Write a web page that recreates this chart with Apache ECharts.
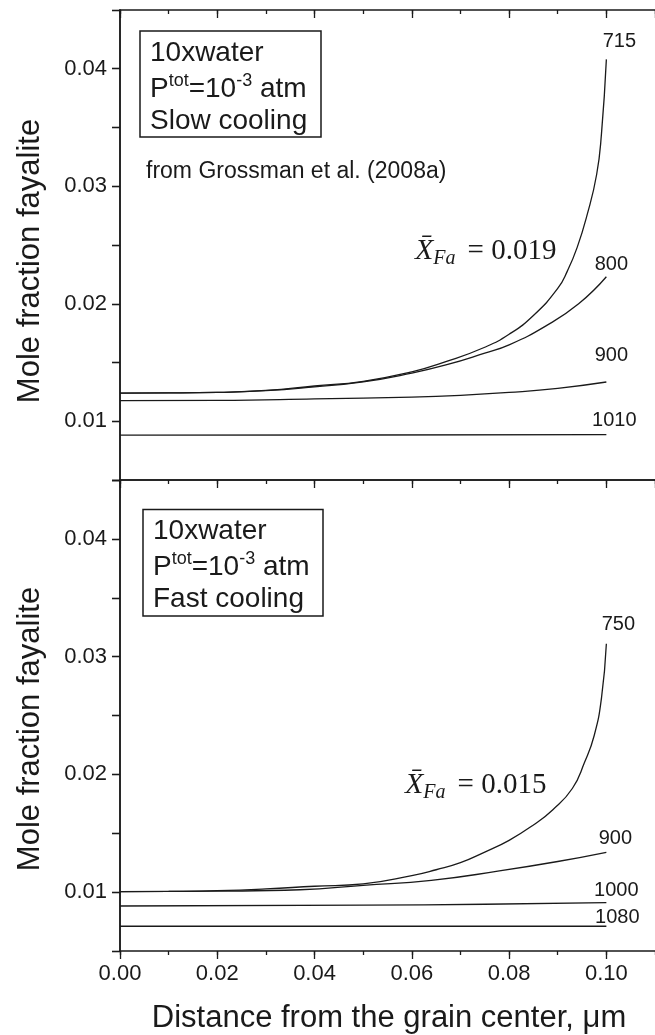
<!DOCTYPE html>
<html>
<head>
<meta charset="utf-8">
<script src="https://cdn.jsdelivr.net/npm/echarts@6/dist/echarts.min.js"></script>
<style>
  html, body { margin: 0; padding: 0; background: #fff; }
  #chart { width: 655px; height: 1035px; }
</style>
</head>
<body>
<div id="chart"></div>
<script>
// Fayalite zoning profiles: mole fraction vs distance from the grain centre (µm)

// Slow cooling, curves labelled by temperature (K)
const slow715X = [0, 0.01, 0.02, 0.03, 0.04, 0.05, 0.06, 0.067, 0.075, 0.08, 0.085, 0.09, 0.092, 0.094, 0.096, 0.098, 0.099, 0.1];
const slow715Y = [0.0124, 0.01241, 0.01246, 0.01262, 0.0130, 0.0134, 0.0142, 0.01507, 0.0163, 0.0174, 0.0190, 0.0213, 0.0228, 0.0248, 0.0275, 0.0310, 0.0345, 0.0408];
const slow800X = [0, 0.01, 0.02, 0.03, 0.04, 0.05, 0.06, 0.067, 0.075, 0.08, 0.0875, 0.0943, 0.1];
const slow800Y = [0.0124, 0.01241, 0.01245, 0.0126, 0.01293, 0.01335, 0.0141, 0.01479, 0.0158, 0.0165, 0.0181, 0.0200, 0.0223];
const slow900X = [0, 0.02, 0.04, 0.06, 0.07, 0.08, 0.09, 0.1];
const slow900Y = [0.01175, 0.01178, 0.0119, 0.01205, 0.0122, 0.01245, 0.0128, 0.01334];
const slow1010X = [0, 0.05, 0.1];
const slow1010Y = [0.00882, 0.00883, 0.00886];
const slowTemps = ['715', '800', '900', '1010'];

// Fast cooling
const fast750X = [0, 0.01, 0.02, 0.03, 0.04, 0.05, 0.06, 0.065, 0.07, 0.075, 0.08, 0.085, 0.089, 0.093, 0.0955, 0.0975, 0.099, 0.1];
const fast750Y = [0.01004, 0.01006, 0.01012, 0.01027, 0.0105, 0.0107, 0.0114, 0.0119, 0.0125, 0.0134, 0.0144, 0.0157, 0.0170, 0.0188, 0.0210, 0.0233, 0.0265, 0.0311];
const fast900X = [0, 0.02, 0.037, 0.05, 0.064, 0.078, 0.09, 0.1];
const fast900Y = [0.01004, 0.01008, 0.0102, 0.01058, 0.0110, 0.0118, 0.0126, 0.01338];
const fast1000X = [0, 0.05, 0.075, 0.1];
const fast1000Y = [0.00882, 0.0089, 0.00897, 0.0091];
const fast1080X = [0, 0.1];
const fast1080Y = [0.0071, 0.0071];
const fastTemps = ['750', '900', '1000', '1080'];

// Axis ranges and tick labels
const xMin = 0, xMax = 0.11, xMajor = 0.02, xMinor = 0.01;
const yMin = 0.005, yMax = 0.045, yStep = 0.005;
const yLabelValues = [0.01, 0.02, 0.03, 0.04];
const xLabelValues = [0, 0.02, 0.04, 0.06, 0.08, 0.1];

const SANS = 'Liberation Sans, Arial, Helvetica, sans-serif';
const SERIF = 'Liberation Serif, Times New Roman, serif';
const INK = '#1a1a1a';

const near = (v, list) => list.some(t => Math.abs(v - t) < 1e-9);

function xAxis(grid, position, opt) {
  return Object.assign({
    type: 'value', gridIndex: grid, position: position,
    min: xMin, max: xMax, interval: xMajor,
    axisLine: { show: true, lineStyle: { color: INK, width: 1.5 } },
    axisTick: { show: true, inside: false, length: 8, lineStyle: { color: INK, width: 1.3 } },
    axisLabel: { show: false },
    splitLine: { show: false }
  }, opt || {});
}
function xMinorAxis(grid, position, inside) {
  return xAxis(grid, position, {
    interval: xMinor,
    axisLine: { show: false },
    axisTick: { show: true, inside: inside, length: 4, lineStyle: { color: INK, width: 1.3 } }
  });
}
function yAxis(grid, position, opt) {
  return Object.assign({
    type: 'value', gridIndex: grid, position: position,
    min: yMin, max: yMax, interval: yStep,
    axisLine: { show: true, lineStyle: { color: INK, width: 1.5 } },
    axisTick: { show: true, inside: position === 'right', length: 8, lineStyle: { color: INK, width: 1.3 } },
    axisLabel: { show: false },
    splitLine: { show: false }
  }, opt || {});
}

const yLabel = {
  show: true, margin: 13, color: INK, fontFamily: SANS, fontSize: 22,
  formatter: v => near(v, yLabelValues) ? v.toFixed(2) : ''
};
const xLabel = {
  show: true, margin: 12, color: INK, fontFamily: SANS, fontSize: 22,
  showMaxLabel: false,
  formatter: v => near(v, xLabelValues) ? v.toFixed(2) : ''
};

const xAxes = [
  xAxis(0, 'bottom'),                 // divider, ticks pointing down
  xMinorAxis(0, 'bottom', false),
  xAxis(0, 'top', { axisTick: { show: true, inside: true, length: 8, lineStyle: { color: INK, width: 1.3 } } }),
  xMinorAxis(0, 'top', true),
  xAxis(1, 'bottom', { axisLabel: xLabel }),
  xMinorAxis(1, 'bottom', false),
  xAxis(1, 'top', { axisTick: { show: false } })
];
const yAxes = [
  yAxis(0, 'left', { axisLabel: yLabel }),
  yAxis(0, 'right'),
  yAxis(1, 'left', { axisLabel: yLabel }),
  yAxis(1, 'right')
];

const pair = (xs, ys) => xs.map((x, i) => [x, ys[i]]);
const slowCurves = [[slow715X, slow715Y], [slow800X, slow800Y], [slow900X, slow900Y], [slow1010X, slow1010Y]];
const fastCurves = [[fast750X, fast750Y], [fast900X, fast900Y], [fast1000X, fast1000Y], [fast1080X, fast1080Y]];

function curve(name, xs, ys, xi, yi) {
  return {
    type: 'line', name: name, xAxisIndex: xi, yAxisIndex: yi,
    data: pair(xs, ys), showSymbol: false, symbol: 'none',
    smooth: 0.5,
    lineStyle: { color: INK, width: 1.3 },
    silent: true
  };
}

const series = [];
slowCurves.forEach((c, i) => series.push(curve('slow ' + slowTemps[i], c[0], c[1], 0, 0)));
fastCurves.forEach((c, i) => series.push(curve('fast ' + fastTemps[i], c[0], c[1], 4, 2)));

const chart = echarts.init(document.getElementById('chart'), null, { renderer: 'canvas' });
chart.setOption({
  animation: false,
  backgroundColor: '#fff',
  grid: [
    { left: 120, top: 10, width: 536.5, height: 470 },
    { left: 120, top: 480, width: 536.5, height: 471 }
  ],
  xAxis: xAxes,
  yAxis: yAxes,
  series: series
});

// Temperature tags placed beside the end of each curve
const slowTagOffsets = [[13, -18], [5, -12], [5, -27], [8, -14]];
const fastTagOffsets = [[12, -19], [9, -14], [10, -12], [11, -9]];

const graphics = [];
function tag(seriesIndex, xs, ys, text, off) {
  const n = xs.length - 1;
  const p = chart.convertToPixel({ seriesIndex: seriesIndex }, [xs[n], ys[n]]);
  graphics.push({
    type: 'text', x: p[0] + off[0], y: p[1] + off[1], silent: true,
    style: { text: text, fill: INK, font: '20px ' + SANS,
      align: 'center', verticalAlign: 'middle', textAlign: 'center', textVerticalAlign: 'middle' }
  });
}
slowCurves.forEach((c, i) => tag(i, c[0], c[1], slowTemps[i], slowTagOffsets[i]));
fastCurves.forEach((c, i) => tag(4 + i, c[0], c[1], fastTemps[i], fastTagOffsets[i]));

function plain(x, y, text, font) {
  return {
    type: 'text', x: x, y: y, silent: true,
    style: { text: text, fill: INK, font: font,
      align: 'left', verticalAlign: 'middle', textAlign: 'left', textVerticalAlign: 'middle' }
  };
}
function centred(x, y, text, font, rotation) {
  return {
    type: 'text', x: x, y: y, rotation: rotation || 0, silent: true,
    style: { text: text, fill: INK, font: font,
      align: 'center', verticalAlign: 'middle', textAlign: 'center', textVerticalAlign: 'middle' }
  };
}
const mainRich = { fontFamily: SANS, fontSize: 28, lineHeight: 34, fill: INK, color: INK };
const supRich = { fontFamily: SANS, fontSize: 18, lineHeight: 21, verticalAlign: 'top', fill: INK, color: INK };
function pressure(x, y) {
  return {
    type: 'text', x: x, y: y, silent: true,
    style: {
      text: '{m|P}{s|tot}{m|=10}{s|-3}{m| atm}',
      rich: { m: mainRich, s: supRich },
      fill: INK, font: '28px ' + SANS,
      align: 'left', verticalAlign: 'middle', textAlign: 'left', textVerticalAlign: 'middle'
    }
  };
}
function frameBox(x, y, w, h) {
  return { type: 'rect', silent: true, shape: { x: x, y: y, width: w, height: h },
    style: { fill: '#fff', stroke: INK, lineWidth: 1.5 } };
}
function meanFa(x, y, value) {
  return {
    type: 'text', x: x, y: y, silent: true,
    style: {
      text: '{x|X\u0304}{f|Fa}{e|= ' + value + '}',
      rich: {
        x: { fontFamily: SERIF, fontStyle: 'italic', fontSize: 30, lineHeight: 36, fill: INK, color: INK },
        f: { fontFamily: SERIF, fontStyle: 'italic', fontSize: 20, lineHeight: 15, verticalAlign: 'bottom', fill: INK, color: INK },
        e: { fontFamily: SERIF, fontSize: 29, lineHeight: 36, padding: [0, 0, 0, 12], fill: INK, color: INK }
      },
      fill: INK, font: '30px ' + SERIF,
      align: 'left', verticalAlign: 'middle', textAlign: 'left', textVerticalAlign: 'middle'
    }
  };
}

const boxFont = '28px ' + SANS;
graphics.push(
  frameBox(140, 31, 181, 106),
  plain(150, 53, '10xwater', boxFont),
  pressure(150, 89),
  plain(150, 121, 'Slow cooling', boxFont),
  plain(146, 172, 'from Grossman et al. (2008a)', '23px ' + SANS),
  meanFa(415, 251, '0.019'),

  frameBox(143, 509.5, 180, 106.5),
  plain(153, 531, '10xwater', boxFont),
  pressure(153, 567),
  plain(153, 599, 'Fast cooling', boxFont),
  meanFa(405, 785, '0.015'),

  centred(30, 261, 'Mole fraction fayalite', '31px ' + SANS, Math.PI / 2),
  centred(30, 729, 'Mole fraction fayalite', '31px ' + SANS, Math.PI / 2),
  centred(389, 1018, 'Distance from the grain center, \u03bcm', '31px ' + SANS)
);

chart.setOption({ graphic: graphics });
</script>
</body>
</html>
